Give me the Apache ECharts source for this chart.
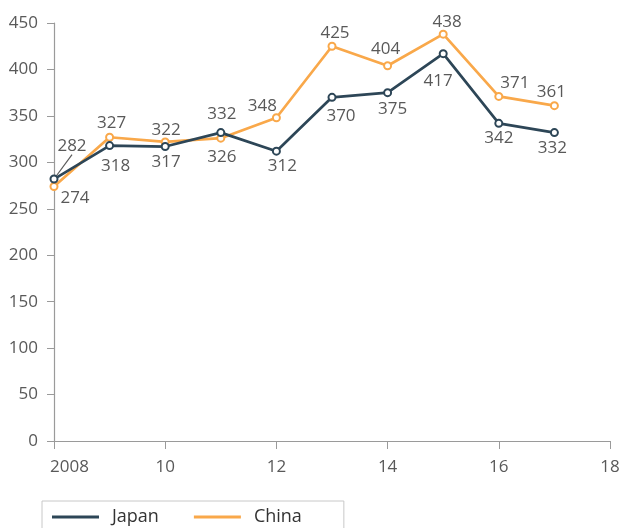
<!DOCTYPE html>
<html>
<head>
<meta charset="utf-8">
<script src="https://cdn.jsdelivr.net/npm/echarts@6/dist/echarts.min.js"></script>
<style>html,body{margin:0;padding:0;background:#fff;}#c{width:624px;height:528px;}</style>
</head>
<body>
<div id="c"></div>
<script>
var years = [2008, 2009, 2010, 2011, 2012, 2013, 2014, 2015, 2016, 2017];
var japan = [282, 318, 317, 332, 312, 370, 375, 417, 342, 332];
var china = [274, 327, 322, 326, 348, 425, 404, 438, 371, 361];
var seriesNames = ['Japan', 'China'];

// label placement (style only)
var japanLabel = [
  {position: 'top', offset: [18, -18], line: true},
  {position: 'bottom', offset: [6, 6]},
  {position: 'bottom', offset: [1, 1]},
  {position: 'top', offset: [1, -3]},
  {position: 'bottom', offset: [6, 0]},
  {position: 'bottom', offset: [9, 4]},
  {position: 'bottom', offset: [5, 1]},
  {position: 'bottom', offset: [-5, 13]},
  {position: 'bottom', offset: [0, 0]},
  {position: 'bottom', offset: [-2, 1]}
];
var chinaLabel = [
  {position: 'bottom', offset: [21, -3]},
  {position: 'top', offset: [2, 1]},
  {position: 'top', offset: [1, 3]},
  {position: 'bottom', offset: [1, 4]},
  {position: 'top', offset: [-14, 3]},
  {position: 'top', offset: [3, 2]},
  {position: 'top', offset: [-2, -2]},
  {position: 'top', offset: [4, 3]},
  {position: 'top', offset: [16, 2]},
  {position: 'top', offset: [-3, 1]}
];

var colors = ['#2d4657', '#f9a84a'];
var txt = '#595959';
var font = '"Open Sans", "Noto Sans", sans-serif';

function build(vals, labs) {
  return vals.map(function (v, i) {
    var l = labs[i];
    var item = {
      value: [years[i], v],
      label: {position: l.position}
    };
    if (l.line) {
      item.labelLine = {show: true, lineStyle: {color: txt, width: 1.2}};
    }
    return item;
  });
}

function layoutFor(labs) {
  return function (p) {
    var o = labs[p.dataIndex].offset;
    return {dx: o[0], dy: o[1]};
  };
}

var chart = echarts.init(document.getElementById('c'), null, {renderer: 'canvas'});
var option = {
  animation: false,
  color: colors,
  grid: {left: 54, right: 14, top: 23, bottom: 87, containLabel: false},
  legend: {
    left: 42, top: 501,
    data: seriesNames,
    icon: 'rect',
    itemWidth: 47, itemHeight: 3,
    itemGap: 35,
    borderColor: '#c8c8c8', borderWidth: 1,
    padding: [7, 42, 30, 10],
    textStyle: {color: '#333', fontSize: 18, fontFamily: font, padding: [0, 0, 0, 8]}
  },
  xAxis: {
    type: 'value', min: 2008, max: 2018, interval: 2,
    axisLine: {lineStyle: {color: '#9a9a9a', width: 1.2}},
    axisTick: {show: true, length: 8, lineStyle: {color: '#9a9a9a'}},
    splitLine: {show: false},
    axisLabel: {
      color: txt, fontSize: 17, fontFamily: font, margin: 18,
      alignMinLabel: 'left',
      formatter: function (v) { return v === 2008 ? '{a|2008}' : String(v).slice(2); },
      rich: {a: {color: txt, fontSize: 17, fontFamily: font, padding: [0, 0, 0, -4]}}
    }
  },
  yAxis: {
    type: 'value', min: 0, max: 450, interval: 50,
    axisLine: {show: true, lineStyle: {color: '#9a9a9a', width: 1.2}},
    axisTick: {show: true, length: 7, lineStyle: {color: '#9a9a9a'}},
    splitLine: {show: false},
    axisLabel: {color: txt, fontSize: 17, fontFamily: font, margin: 16}
  },
  series: [
    {
      name: seriesNames[0], type: 'line',
      data: build(japan, japanLabel),
      symbol: 'emptyCircle', symbolSize: 7,
      lineStyle: {width: 2.7, color: colors[0]},
      itemStyle: {color: colors[0], borderWidth: 1.5},
      label: {show: true, color: txt, fontSize: 17, fontFamily: font, distance: 2,
        formatter: function (p) { return p.value[1]; }},
      labelLine: {show: false},
      labelLayout: layoutFor(japanLabel),
      z: 3
    },
    {
      name: seriesNames[1], type: 'line',
      data: build(china, chinaLabel),
      symbol: 'emptyCircle', symbolSize: 7,
      lineStyle: {width: 2.7, color: colors[1]},
      itemStyle: {color: colors[1], borderWidth: 1.5},
      label: {show: true, color: txt, fontSize: 17, fontFamily: font, distance: 2,
        formatter: function (p) { return p.value[1]; }},
      labelLine: {show: false},
      labelLayout: layoutFor(chinaLabel),
      z: 2
    }
  ]
};
chart.setOption(option);
</script>
</body>
</html>
